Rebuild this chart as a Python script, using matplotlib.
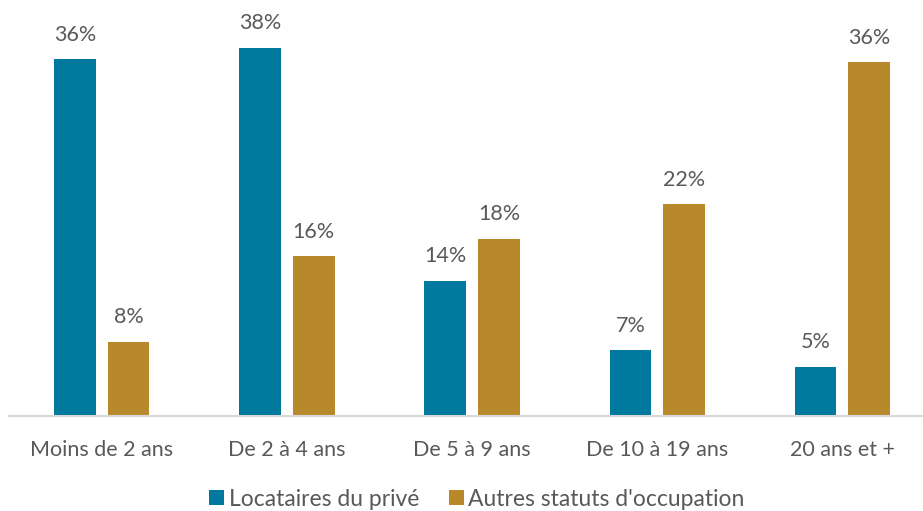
import matplotlib
matplotlib.use("Agg")
from matplotlib import pyplot as plt
import numpy as np

categories = ["Moins de 2 ans", "De 2 à 4 ans", "De 5 à 9 ans", "De 10 à 19 ans", "20 ans et +"]
prive = [36.4, 37.6, 13.8, 6.7, 5.0]
autres = [7.6, 16.3, 18.1, 21.6, 36.1]
series_names = ["Locataires du privé", "Autres statuts d'occupation"]

blue = "#00799F"
gold = "#B8892A"
grey = "#595959"

plt.rcParams['font.family'] = ['Lato', 'DejaVu Sans']

fig = plt.figure(figsize=(9.23, 5.11), dpi=100)
ax = fig.add_axes([9 / 923, 95 / 511, 914 / 923, 416 / 511])

x = np.arange(len(categories))
w = 0.225
off = 0.145
b1 = ax.bar(x - off, prive, w, color=blue, label=series_names[0])
b2 = ax.bar(x + off, autres, w, color=gold, label=series_names[1])

for bars, vals in ((b1, prive), (b2, autres)):
    for rect, v in zip(bars, vals):
        ax.annotate(f"{v:.0f}%", (rect.get_x() + rect.get_width() / 2, v),
                    xytext=(0, 10.5), textcoords="offset points",
                    ha="center", va="bottom", fontsize=15.5, color=grey)

ax.set_xlim(-0.5, 4.435)
ax.set_ylim(0, 42.45)
ax.set_xticks(x, labels=categories)
ax.tick_params(axis="x", length=0, pad=17, labelsize=15.5, labelcolor=grey)
ax.set_yticks([])
for s in ("top", "right", "left"):
    ax.spines[s].set_visible(False)
ax.spines["bottom"].set_color("#D9D9D9")
ax.spines["bottom"].set_linewidth(1.5)

fig.legend(loc="center", bbox_to_anchor=(477 / 923, 12 / 511), ncol=2, frameon=False,
           fontsize=16.5, labelcolor=grey, handlelength=0.65, handleheight=0.65,
           handletextpad=0.2, columnspacing=1.3)

fig.savefig("out.png", dpi=100)
